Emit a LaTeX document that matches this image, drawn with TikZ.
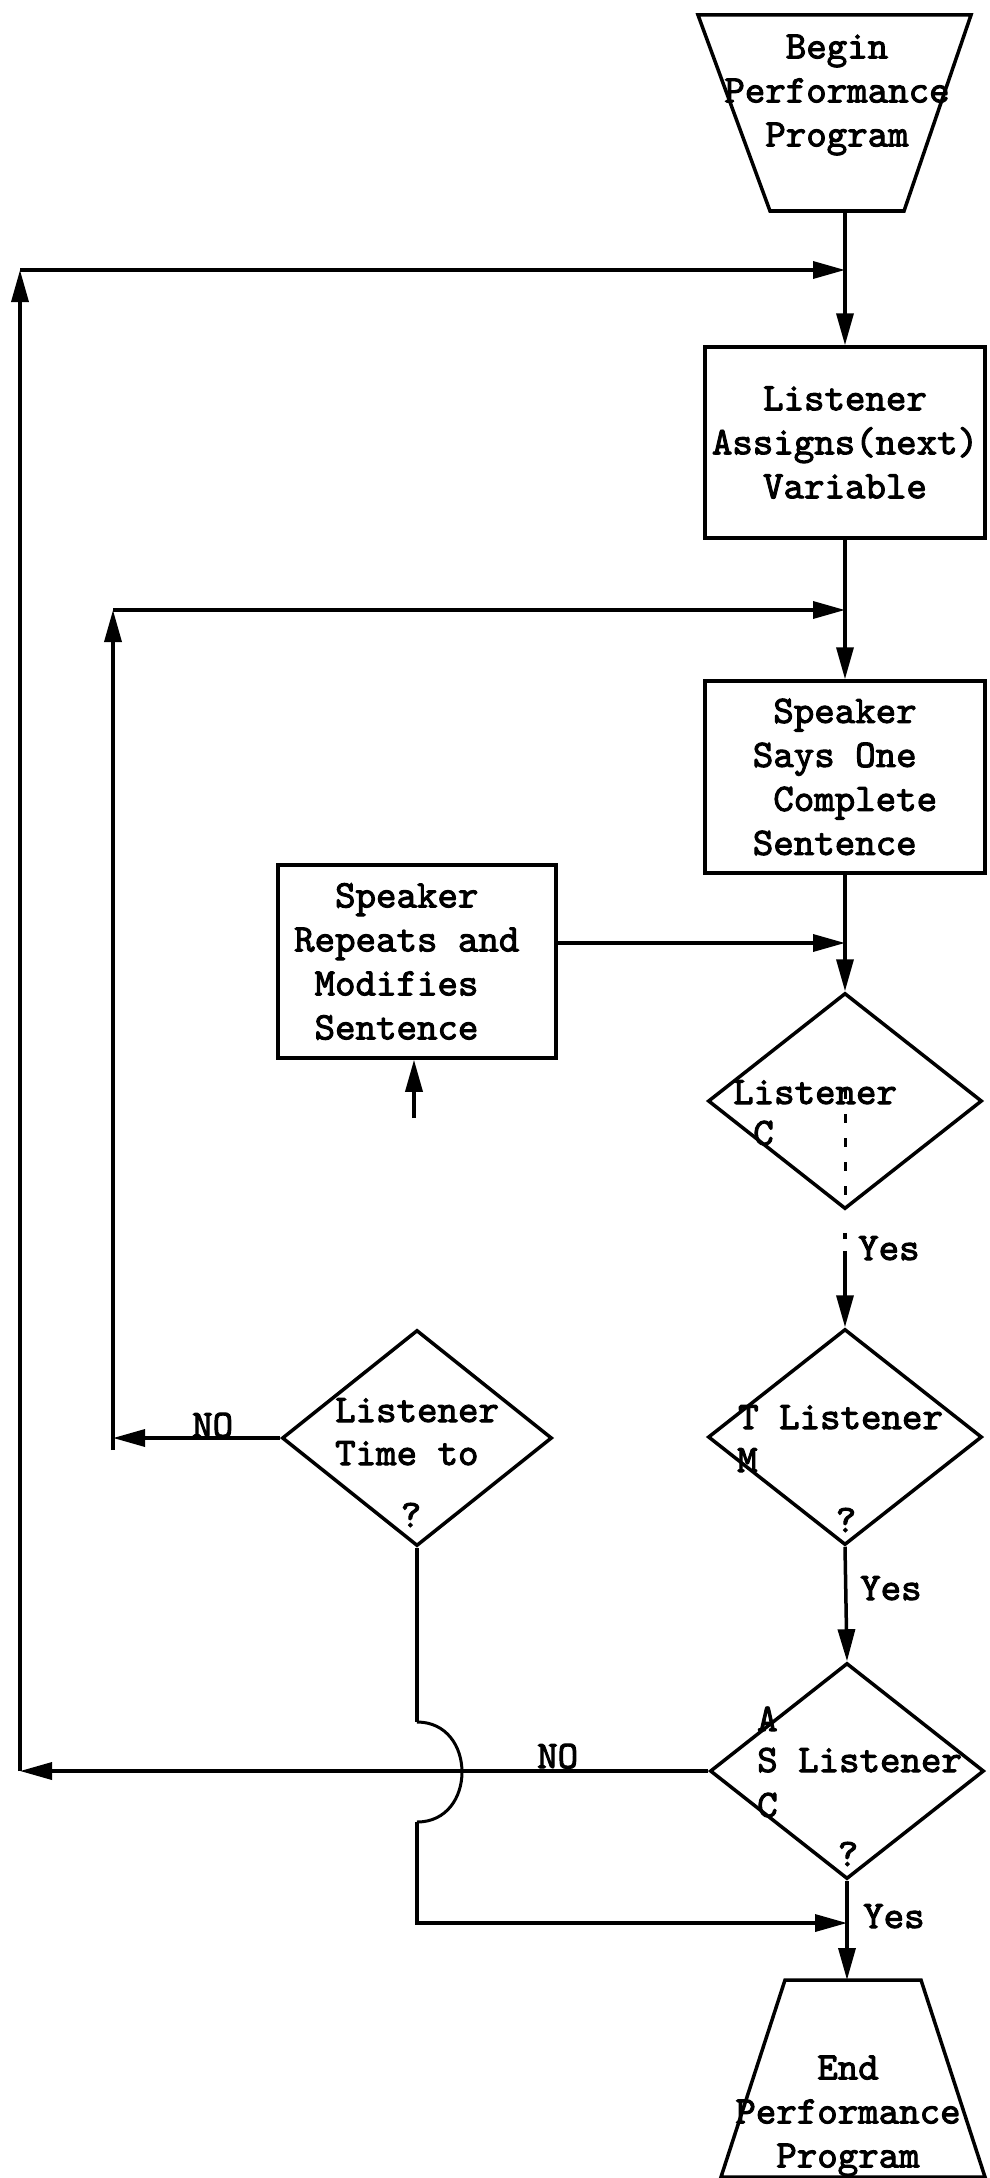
\documentclass[tikz,border=0pt]{standalone}
\usepackage{fontspec}
\newfontfamily\typewriter{lmmono10-regular.otf}[FakeBold=2.5]
\usetikzlibrary{shapes.geometric,arrows.meta}
\begin{document}
\begin{tikzpicture}[x=1pt,y=-1pt,
  every node/.style={font=\typewriter\fontsize{39}{44}\selectfont},
  line/.style={line width=3.5pt},
  arr/.style={line width=3.5pt,-{Triangle[length=32pt,width=17pt]}},
  box/.style={draw,line width=3.5pt,rectangle,inner sep=0pt},
  dec/.style={draw,line width=3.5pt,diamond,inner sep=0pt,minimum width=274pt,minimum height=216pt},
  term/.style={line width=3.5pt,line join=miter},
  txt/.style={inner sep=0pt,anchor=base west},
  ctxt/.style={inner sep=0pt,anchor=base}
]
\useasboundingbox (0,0) rectangle (990,2178);

% terminals
\draw[term] (698,15) -- (971,15) -- (904,211) -- (770,211) -- cycle;
\coordinate (beginBottom) at (845,211);
\node[align=center,inner sep=0pt] (begintext) at (837,95) {Begin\\Performance\\Program};

\draw[term] (785,1980) -- (921,1980) -- (985,2177) -- (721,2177) -- cycle;
\coordinate (finishTop) at (847,1980);
\node[align=center,inner sep=0pt] (finishtext) at (848,2116) {End\\Performance\\Program};

% process boxes
\node[box,minimum width=280pt,minimum height=191pt,align=center] (assign) at (845,442.5)
  {Listener\\Assigns(next)\\Variable};
\node[box,minimum width=280pt,minimum height=192pt,align=left] (say) at (845,777)
  {\phantom{x}Speaker\\Says One\\\phantom{x}Complete\\Sentence};
\node[box,minimum width=278pt,minimum height=193pt,align=left] (repeat) at (417,961.5)
  {\phantom{xx}Speaker\\Repeats and\phantom{x}\\\phantom{x}Modifies\\\phantom{x}Sentence};

% decisions
\node[dec] (comp) at (845,1101) {};
\node[dec] (tm) at (845,1437) {};
\node[dec] (asc) at (847,1771) {};
\node[dec,minimum width=270pt] (timeto) at (417,1438) {};

% decision texts
\node[txt] (compA) at (733,1104) {Listener};
\node[txt] (compB) at (753,1145) {C};
\draw[line width=3pt,dash pattern=on 9pt off 15pt] (845,1090) -- (845,1205);

\node[txt] (tmA) at (738,1429) {T Listener};
\node[txt] (tmB) at (737,1472) {M};
\node[ctxt] (tmQ) at (846,1532) {?};

\node[txt] (ascA) at (757,1731) {A};
\node[txt] (ascB) at (757,1772) {S Listener};
\node[txt] (ascC) at (757,1817) {C};
\node[ctxt] (ascQ) at (848,1866) {?};

\node[txt] (ttA) at (335,1422) {Listener};
\node[txt] (ttB) at (335,1465) {Time to};
\node[ctxt] (ttQ) at (411,1527) {?};

% branch labels
\node[txt] (yes1) at (858,1260) {Yes};
\node[txt] (yes2) at (860,1600) {Yes};
\node[txt] (yes3) at (863,1928) {Yes};
\node[txt] (no1) at (192,1437) {NO};
\node[txt] (no2) at (537,1768) {NO};

% junctions and corners
\coordinate (loopA) at (845,270);
\coordinate (loopB) at (845,610);
\coordinate (feedin) at (845,943);
\coordinate (merge) at (847,1923);
\coordinate (outerTop) at (20,270);
\coordinate (outerBot) at (20,1771);
\coordinate (innerTop) at (113,610);
\coordinate (innerBot) at (113,1450);
\coordinate (hopIn) at (417,1722);
\coordinate (hopOut) at (417,1822);
\coordinate (retry) at (414,1118);

% main flow
\draw[arr] (beginBottom) -- (assign.north);
\draw[arr] (assign.south) -- (say.north);
\draw[arr] (say.south) -- (comp.north);
\draw[arr,dash pattern=on 0pt off 22pt on 6pt off 12pt on 400pt] (comp.south) -- (tm.north);
\draw[arr] (tm.south) -- (asc.north);
\draw[arr] (asc.south) -- (finishTop);

% outer loop (NO from last decision)
\draw[arr] (asc.west) -- (outerBot);
\draw[arr] (outerBot) -- (outerTop);
\draw[arr] (outerTop) -- (loopA);

% inner loop (NO from time decision)
\draw[arr] (timeto.west) -- (timeto.west -| innerTop);
\draw[arr] (innerBot) -- (innerTop);
\draw[arr] (innerTop) -- (loopB);

% repeat branch
\draw[arr] (repeat.east |- feedin) -- (feedin);
\draw[arr] (retry) -- (retry |- repeat.south);

% time decision down, hopping over the NO line, into the end
\draw[line] (timeto.south) -- (hopIn);
\draw[line width=3pt] (hopIn) .. controls (477,1722) and (477,1822) .. (hopOut);
\draw[arr] (hopOut) -- (hopOut |- merge) -- (merge);
\end{tikzpicture}
\end{document}
